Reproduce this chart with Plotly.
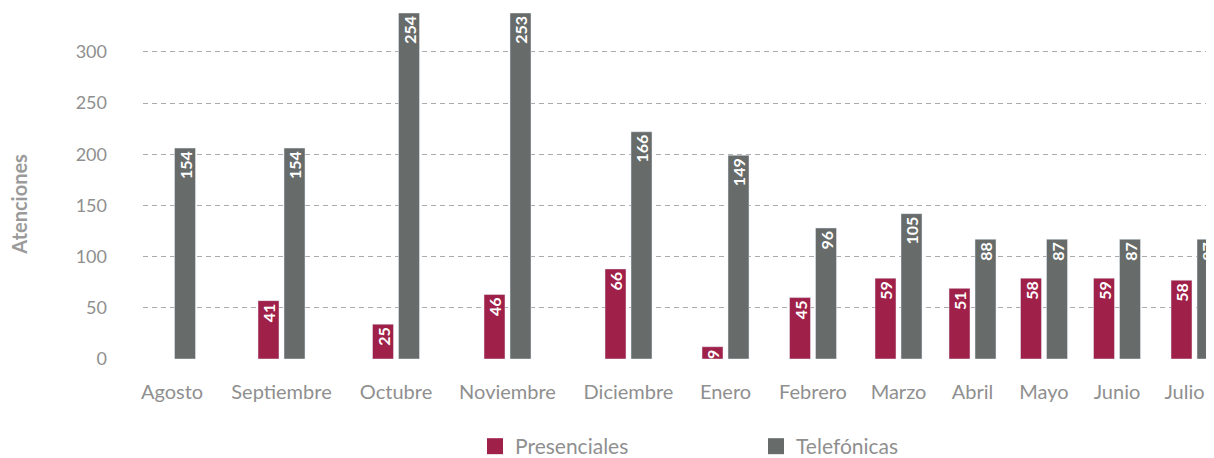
import numpy as np
import plotly.graph_objects as go

months = ["Agosto", "Septiembre", "Octubre", "Noviembre", "Diciembre", "Enero",
          "Febrero", "Marzo", "Abril", "Mayo", "Junio", "Julio"]

# bar heights (Octubre / Noviembre run off the top)
presenciales = [None, 57, 34, 63, 88, 12, 60, 79, 69, 79, 79, 77]
telefonicas = [206, 206, 338, 338, 222, 199, 128, 142, 117, 117, 117, 117]

# labels printed inside the bars
presenciales_lbl = ["", "41", "25", "46", "66", "9", "45", "59", "51", "58", "59", "58"]
telefonicas_lbl = ["154", "154", "254", "253", "166", "149", "96", "105", "88", "87", "87", "87"]

# categories are laid out by the width of their label (px)
slot_widths = [86, 133, 96, 127, 115, 79, 96, 75, 73, 70, 76, 79]
x_pos = np.cumsum(slot_widths) - np.array(slot_widths) / 2 - 14
tick_pos = x_pos.copy()
tick_pos[-1] -= 10  # last label pulled in so it stays on the page

FONT = "Lato"
GUINDA = "#9F2049"
GRIS = "#676C6B"
TXT = "#8F8F8F"

fig = go.Figure()
for name, vals, lbl, color, off in [
    ("Presenciales", presenciales, presenciales_lbl, GUINDA, -23.5),
    ("Telefónicas", telefonicas, telefonicas_lbl, GRIS, 2.5),
]:
    fig.add_bar(
        x=x_pos, y=vals, name=name, showlegend=False,
        marker_color=color, width=21, offset=off,
        text=lbl, textposition="inside", insidetextanchor="end",
        textangle=-90, constraintext="none",
        textfont=dict(family=FONT, size=16, color="white", weight="bold"),
    )
    # legend entry with a bigger square swatch
    fig.add_scatter(
        x=[None], y=[None], name=name, mode="markers",
        marker=dict(symbol="square", size=20, color=color),
    )

# the page body adds an 8px offset, so the figure is drawn 8px up/left
fig.update_layout(
    width=1214,
    height=466,
    margin=dict(l=135, r=8, t=5, b=115),
    plot_bgcolor="white",
    paper_bgcolor="white",
    font=dict(family=FONT, size=20, color=TXT),
    barmode="overlay",
    uniformtext=dict(minsize=16, mode="show"),
    legend=dict(
        orientation="h",
        x=0.310, xanchor="left",
        y=-0.253, yanchor="middle",
        entrywidth=236,
        itemsizing="trace",
        font=dict(size=21, color=TXT),
    ),
)

fig.add_annotation(
    text="<b>Atenciones</b>", textangle=-90,
    xref="paper", yref="paper", x=-0.1155, y=0.447,
    xanchor="center", yanchor="middle", showarrow=False,
    font=dict(size=20, color="#9A9A9A"),
)

fig.update_xaxes(
    range=[0, 1071],
    tickvals=tick_pos,
    ticktext=months,
    tickfont=dict(size=20),
    showgrid=False,
    zeroline=False,
    showline=False,
    automargin=False,
    ticklabelstandoff=19,
)

fig.update_yaxes(
    range=[0, 338],
    tickvals=[0, 50, 100, 150, 200, 250, 300],
    tickfont=dict(size=18),
    showgrid=True,
    gridcolor="#ABABAB",
    griddash="5px,4px",
    gridwidth=1,
    zeroline=False,
    showline=False,
    automargin=False,
    ticklabelstandoff=35,
)

fig.write_html("out.html")
